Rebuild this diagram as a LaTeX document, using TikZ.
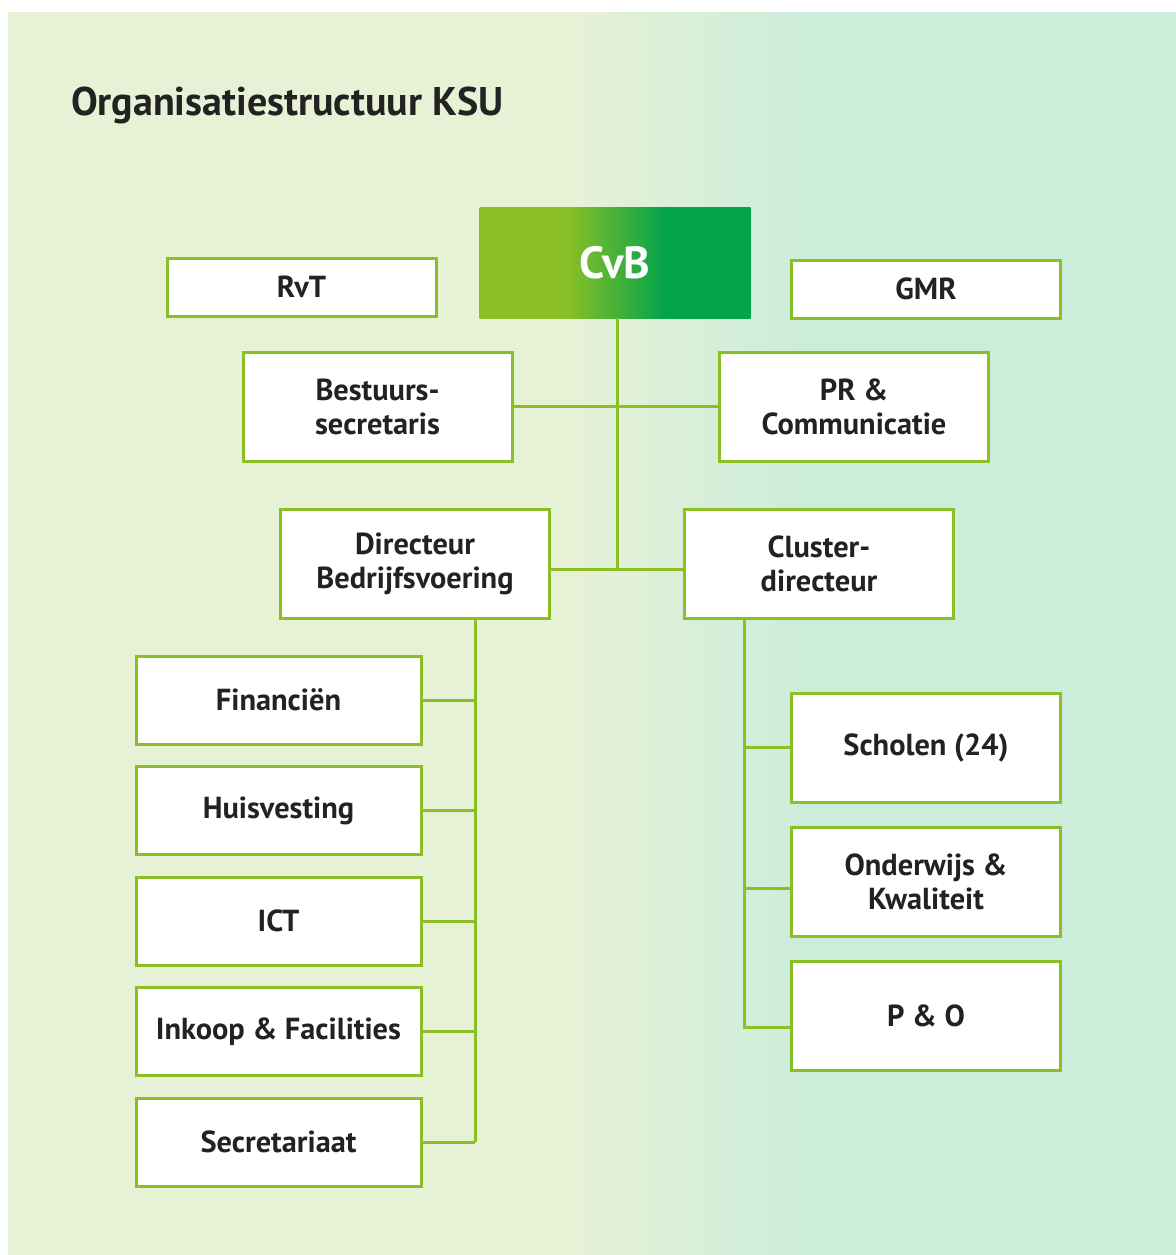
\documentclass[tikz,border=0pt]{standalone}
\usepackage{fontspec}
\setmainfont{PT Sans}
\usepackage{tikz}
\usetikzlibrary{positioning}
\definecolor{ksugreen}{HTML}{8BBF26}
\definecolor{ksudark}{HTML}{04A54A}
\definecolor{bgleft}{HTML}{E6F1D6}
\definecolor{bgright}{HTML}{CCEDDA}
\definecolor{ink}{HTML}{222222}
\pgfdeclarehorizontalshading{cvbshade}{100bp}{color(0bp)=(ksugreen); color(41bp)=(ksugreen); color(59bp)=(ksudark); color(100bp)=(ksudark)}

\begin{document}
\begin{tikzpicture}[x=0.5pt, y=-0.5pt,
  every node/.style={font=\bfseries\fontsize{15.2}{17}\selectfont, text=ink},
  unit/.style={rectangle, draw=ksugreen, line width=1.5pt, fill=white,
               align=center, minimum width=134.5pt, minimum height=54.5pt,
               inner sep=2pt},
  small/.style={unit, minimum height=29pt},
  dept/.style={unit, minimum width=142.5pt, minimum height=44pt},
  board/.style={rectangle, shade, shading=cvbshade, minimum width=135.5pt,
                minimum height=55.5pt, text=white,
                font=\bfseries\fontsize{22.5}{26}\selectfont},
  link/.style={draw=ksugreen, line width=1.5pt}]

\useasboundingbox (0,0) rectangle (1176,1255);
% background
\fill[bgleft] (8,12) rectangle (580,1255);
\shade[left color=bgleft, right color=bgright] (579,12) rectangle (801,1255);
\fill[bgright] (800,12) rectangle (1176,1255);

\node[anchor=base west, font=\bfseries\fontsize{20}{24}\selectfont] (title)
  at (64,115) {Organisatiestructuur KSU};

% top level
\node[board] (cvb) at (615,262.5) {CvB};
\node[small] (rvt) at (301.5,287) {RvT};
\node[small] (gmr) at (926,289) {GMR};
\node[unit] (bsec) at (377.5,406.5) {Bestuurs-\\secretaris};
\node[unit] (pr) at (854,406.5) {PR \&\\Communicatie};
\node[unit] (dir) at (415,564) {Directeur\\Bedrijfsvoering};
\node[unit] (clus) at (819,564) {Cluster-\\directeur};

% bedrijfsvoering
\node[dept] (fin) at (278.5,700) {Financiën};
\node[dept] (huis) at (278.5,810.5) {Huisvesting};
\node[dept] (ict) at (278.5,921) {ICT};
\node[dept] (ink) at (278.5,1031.5) {Inkoop \& Facilities};
\node[dept] (sec) at (278.5,1142) {Secretariaat};

% onderwijs
\node[unit] (sch) at (926,747.5) {Scholen (24)};
\node[unit] (onk) at (926,881.5) {Onderwijs \&\\Kwaliteit};
\node[unit] (po) at (926,1016) {P \& O};

% connectors
\coordinate (hub) at (617,569);
\coordinate (ltrunk) at (475,0);
\coordinate (rtrunk) at (744,0);
\coordinate (onkjoin) at ([yshift=-3.25pt]onk.west);
\coordinate (pojoin) at ([yshift=-5.5pt]po.west);

\draw[link] (cvb.south -| hub) -- (hub);
\draw[link] (bsec.east) -- (pr.west);
\draw[link] (dir.east |- hub) -- (clus.west |- hub);

\draw[link] (ltrunk |- dir.south) -- (ltrunk |- sec.east);
\foreach \n in {fin,huis,ict,ink,sec}
  \draw[link] (\n.east) -- (\n.east -| ltrunk);

\draw[link] (rtrunk |- clus.south) -- (rtrunk |- pojoin) -- (pojoin);
\draw[link] (rtrunk |- sch.west) -- (sch.west);
\draw[link] (rtrunk |- onkjoin) -- (onkjoin);
\end{tikzpicture}
\end{document}
